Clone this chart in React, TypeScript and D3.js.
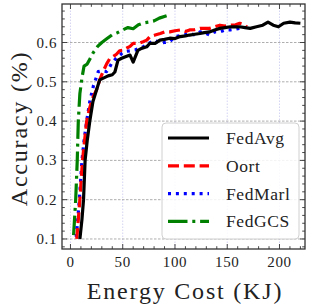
import React from "react";
import * as d3 from "d3";

// energy (KJ) / accuracy
const fedAvgEnergy = [9, 11, 12.5, 14, 16, 18.5, 21.5, 25, 28, 32, 36, 40, 42.5, 45.5, 49, 52, 57, 60, 64.5, 68, 73, 76, 81, 85.6, 90, 95, 100, 105, 110, 114, 119, 124, 128, 133, 138, 143, 148, 153, 158, 162, 167, 172, 178, 184, 189, 194, 199, 204, 210, 215, 220];
const fedAvgAcc = [0.1, 0.15, 0.2, 0.3, 0.35, 0.4, 0.45, 0.48, 0.505, 0.51, 0.515, 0.518, 0.525, 0.555, 0.56, 0.563, 0.568, 0.55, 0.58, 0.585, 0.589, 0.598, 0.598, 0.606, 0.608, 0.611, 0.61, 0.615, 0.617, 0.619, 0.621, 0.623, 0.625, 0.627, 0.632, 0.636, 0.638, 0.64, 0.64, 0.64, 0.638, 0.636, 0.64, 0.644, 0.652, 0.644, 0.64, 0.649, 0.652, 0.65, 0.649];

const oortEnergy = [6, 7.5, 9, 11.5, 13.5, 15.5, 18, 21.5, 25, 28, 31, 34.5, 37.8, 40.7, 44, 47, 50, 54, 57, 60, 65, 69.5, 73, 76, 81, 86, 90, 95, 100, 105, 110, 114, 119, 124, 128, 133, 138, 143, 148, 153, 158, 162, 167, 168.5];
const oortAcc = [0.1, 0.15, 0.2, 0.3, 0.35, 0.4, 0.43, 0.461, 0.48, 0.505, 0.525, 0.545, 0.56, 0.564, 0.57, 0.579, 0.58, 0.586, 0.59, 0.598, 0.598, 0.602, 0.606, 0.615, 0.619, 0.623, 0.627, 0.627, 0.63, 0.632, 0.628, 0.632, 0.633, 0.636, 0.636, 0.636, 0.64, 0.644, 0.642, 0.644, 0.645, 0.649, 0.645, 0.64];

const fedMarlEnergy = [5.5, 7, 8.5, 11, 13, 15.5, 18.7, 22, 26.6, 30, 34.6, 37, 39.4, 42, 45.7, 49, 52, 57, 61.7, 66, 69.7, 73, 77.7, 81, 85.6, 90, 95, 100, 105, 110, 114, 119, 124, 128, 133, 138, 143, 148, 153, 158, 162, 164];
const fedMarlAcc = [0.105, 0.15, 0.2, 0.3, 0.35, 0.4, 0.453, 0.49, 0.526, 0.528, 0.526, 0.535, 0.547, 0.555, 0.564, 0.572, 0.577, 0.579, 0.581, 0.586, 0.589, 0.595, 0.602, 0.606, 0.598, 0.6, 0.602, 0.615, 0.617, 0.62, 0.623, 0.619, 0.627, 0.625, 0.619, 0.627, 0.627, 0.632, 0.632, 0.634, 0.636, 0.636];

const fedGcsEnergy = [3, 5, 6.5, 7.5, 9, 11, 13, 16, 19, 22, 26, 30, 35, 40, 45, 50, 55, 60, 65, 70, 75, 80, 85, 92];
const fedGcsAcc = [0.11, 0.2, 0.3, 0.4, 0.47, 0.51, 0.54, 0.545, 0.56, 0.575, 0.59, 0.6, 0.61, 0.62, 0.625, 0.632, 0.638, 0.635, 0.645, 0.65, 0.652, 0.655, 0.662, 0.668];

const seriesNames = ["FedAvg", "Oort", "FedMarl", "FedGCS"];
const xTicks = [0, 50, 100, 150, 200];
const yTicks = [0.1, 0.2, 0.3, 0.4, 0.5, 0.6];

const width = 314;
const height = 306;
const margin = { top: 4, right: 9, bottom: 57, left: 62 };
const font = '"Liberation Serif"';
const ink = "#222";
const axisColor = "#333";

const x = d3.scaleLinear().domain([-8.1, 224.4]).range([margin.left, width - margin.right]);
const y = d3.scaleLinear().domain([0.0745, 0.698]).range([height - margin.bottom, margin.top]);
const x0 = margin.left, x1 = width - margin.right;
const y0 = height - margin.bottom, y1 = margin.top;

const series = [
  { name: seriesNames[0], e: fedAvgEnergy, a: fedAvgAcc, color: "#000000", dash: undefined },
  { name: seriesNames[1], e: oortEnergy, a: oortAcc, color: "#ff0000", dash: "11,4.8" },
  { name: seriesNames[2], e: fedMarlEnergy, a: fedMarlAcc, color: "#0000ff", dash: "3,4.9" },
  { name: seriesNames[3], e: fedGcsEnergy, a: fedGcsAcc, color: "#008000", dash: "19.5,4.8,3,4.8" },
];

const line = d3.line<[number, number]>().x((d) => x(d[0])).y((d) => y(d[1]));
const xMinor = d3.range(0, 221, 10).filter((d) => d % 50 !== 0);
const yMinor = d3.range(0.08, 0.7, 0.02).filter((d) => Math.abs(d * 10 - Math.round(d * 10)) > 0.01);

const App = () => {
  document.body.style.margin = "0";
  return (
    <svg width={width} height={height} style={{ display: "block" }}>
      {/* grid */}
      {xTicks.map((t) => (
        <line key={"gx" + t} x1={x(t)} x2={x(t)} y1={y0} y2={y1} stroke="#c8c8f0" strokeWidth={0.8} strokeDasharray="1.5,1.5" />
      ))}
      {yTicks.map((t) => (
        <line key={"gy" + t} x1={x0} x2={x1} y1={y(t)} y2={y(t)} stroke="#999" strokeWidth={0.8} strokeDasharray="2.5,1.5" />
      ))}

      {/* lines */}
      <clipPath id="plotclip">
        <rect x={x0} y={y1} width={x1 - x0} height={y0 - y1} />
      </clipPath>
      <g clipPath="url(#plotclip)">
        {[...series].reverse().map((s) => (
          <path
            key={s.name}
            d={line(s.e.map((v, i) => [v, s.a[i]] as [number, number])) || ""}
            fill="none"
            stroke={s.color}
            strokeWidth={3.2}
            strokeLinejoin="round"
            strokeDasharray={s.dash}
          />
        ))}
      </g>

      {/* inward ticks on all sides */}
      <g stroke={axisColor} strokeWidth={0.9}>
        {xTicks.map((t) => (
          <g key={"tx" + t}>
            <line x1={x(t)} x2={x(t)} y1={y0} y2={y0 - 5} />
            <line x1={x(t)} x2={x(t)} y1={y1} y2={y1 + 5} />
          </g>
        ))}
        {xMinor.map((t) => (
          <g key={"mx" + t}>
            <line x1={x(t)} x2={x(t)} y1={y0} y2={y0 - 2.8} />
            <line x1={x(t)} x2={x(t)} y1={y1} y2={y1 + 2.8} />
          </g>
        ))}
        {yTicks.map((t) => (
          <g key={"ty" + t}>
            <line x1={x0} x2={x0 + 5} y1={y(t)} y2={y(t)} />
            <line x1={x1} x2={x1 - 5} y1={y(t)} y2={y(t)} />
          </g>
        ))}
        {yMinor.map((t) => (
          <g key={"my" + t}>
            <line x1={x0} x2={x0 + 2.8} y1={y(t)} y2={y(t)} />
            <line x1={x1} x2={x1 - 2.8} y1={y(t)} y2={y(t)} />
          </g>
        ))}
      </g>
      <rect x={x0} y={y1} width={x1 - x0} height={y0 - y1} fill="none" stroke={axisColor} strokeWidth={1.3} />

      {/* tick labels */}
      {xTicks.map((t) => (
        <text key={"lx" + t} x={x(t)} y={y0 + 18} textAnchor="middle" fontSize={15} letterSpacing={0.6} fill={ink} style={{ fontFamily: font }}>
          {t}
        </text>
      ))}
      {yTicks.map((t) => (
        <text key={"ly" + t} x={x0 - 5} y={y(t)} dy="0.34em" textAnchor="end" fontSize={15} letterSpacing={0.6} fill={ink} style={{ fontFamily: font }}>
          {t.toFixed(1)}
        </text>
      ))}

      {/* axis titles */}
      <text x={185} y={299} textAnchor="middle" fontSize={24} letterSpacing={1.8} fill={ink} style={{ fontFamily: font }}>
        Energy Cost (KJ)
      </text>
      <text transform={`translate(27,${(y0 + y1) / 2 + 2}) rotate(-90)`} textAnchor="middle" fontSize={24} letterSpacing={1.8} fill={ink} style={{ fontFamily: font }}>
        Accuracy (%)
      </text>

      {/* legend */}
      <rect x={162} y={123} width={137} height={116} rx={4} fill="white" fillOpacity={0.85} stroke="#d0d0d0" strokeWidth={1} />
      {series.map((s, i) => {
        const cy = 138 + i * 27.8;
        return (
          <g key={"lg" + s.name}>
            <line x1={168} x2={209} y1={cy} y2={cy} stroke={s.color} strokeWidth={3.2} strokeDasharray={s.dash} />
            <text x={226} y={cy} dy="0.34em" fontSize={17.5} letterSpacing={0.6} fill={ink} style={{ fontFamily: font }}>
              {s.name}
            </text>
          </g>
        );
      })}
    </svg>
  );
};

export default App;
